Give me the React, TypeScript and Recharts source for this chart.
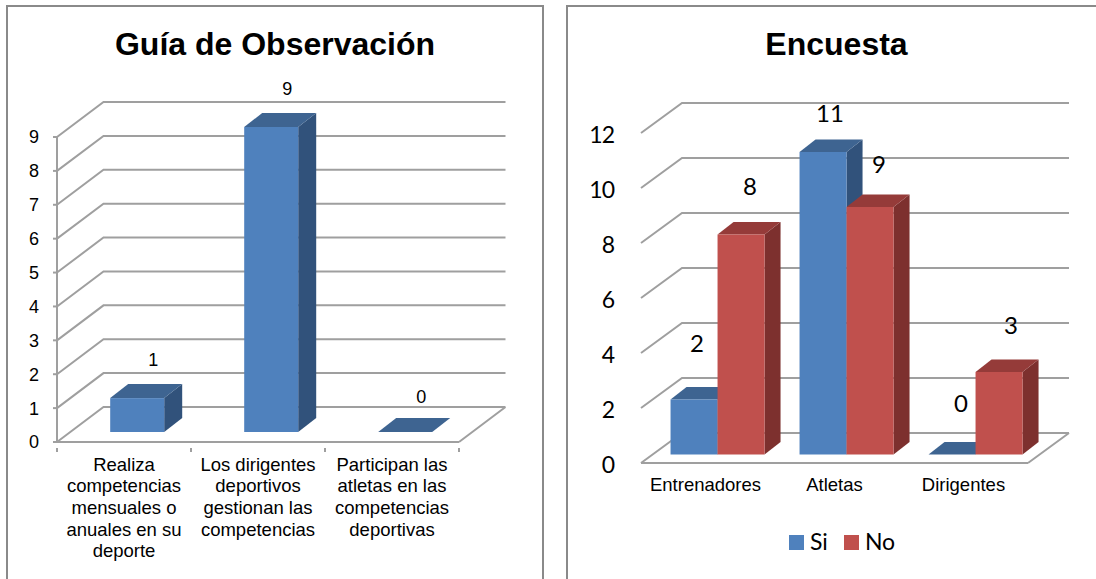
import { Bar, BarChart, CartesianGrid, LabelList, Legend, Text, XAxis, YAxis } from 'recharts';

const guideCategories = [
  'Realiza competencias mensuales o anuales en su deporte',
  'Los dirigentes deportivos gestionan las competencias',
  'Participan las atletas en las competencias deportivas',
];
const guideValues = [1, 9, 0];
const guideTicks = [0, 1, 2, 3, 4, 5, 6, 7, 8, 9];

const surveyCategories = ['Entrenadores', 'Atletas', 'Dirigentes'];
const surveySi = [2, 11, 0];
const surveyNo = [8, 9, 3];
const surveyTicks = [0, 2, 4, 6, 8, 10, 12];

const guideData = guideCategories.map((name, i) => ({ name, value: guideValues[i] }));
const surveyData = surveyCategories.map((name, i) => ({ name, si: surveySi[i], no: surveyNo[i] }));

const ARIAL = '"Liberation Sans", Arial, sans-serif';
const CALIBRI = 'Lato, sans-serif';
const GRID = '#9f9f9f';

const BLUE = { front: '#4f81bd', top: '#3e6491', side: '#31527b' };
const RED = { front: '#c0504d', top: '#953b39', side: '#7d302e' };

// data label placement relative to the top of each bar's front face
const guideLabelNudge = [[16, -38], [16, -38], [16, -35]];
const siLabelNudge = [[3, -57], [7, -40], [9, -52]];
const noLabelNudge = [[9, -49], [9, -44], [12, -48]];

// back wall + side wall of the fake 3D plot, one path per gridline
const wallLine = (dx: number, dy: number) => (props: any) => {
  const { x1, x2, y1, y, height } = props;
  const isFloor = Math.abs(y1 - (y + height)) < 0.5;
  let d = `M${x1},${y1}L${x1 + dx},${y1 + dy}L${x2 + dx},${y1 + dy}`;
  if (isFloor) d += `M${x2},${y1}L${x2 + dx},${y1 + dy}`;
  return <path key={`wall-${y1}`} d={d} fill="none" stroke={GRID} strokeWidth={2} />;
};

// extruded bar: the front face sits a little inside the floor
const box = (colors: typeof BLUE, shiftX: number, shiftY: number, depthX: number, depthY: number) => (props: any) => {
  const { x, y, width, height } = props;
  const l = x + shiftX;
  const r = l + width;
  const t = y + shiftY;
  const b = t + height;
  return (
    <g>
      <path d={`M${r},${t}L${r + depthX},${t - depthY}L${r + depthX},${b - depthY}L${r},${b}Z`} fill={colors.side} />
      <path d={`M${l},${t}L${l + depthX},${t - depthY}L${r + depthX},${t - depthY}L${r},${t}Z`} fill={colors.top} />
      <rect x={l} y={t} width={width} height={height} fill={colors.front} />
    </g>
  );
};

const barLabel = (nudges: number[][], shiftX: number, shiftY: number, family: string, size: number) => (props: any) => {
  const { x, y, width, value, index } = props;
  const [nx, ny] = nudges[index];
  return (
    <text
      x={x + shiftX + width / 2 + nx}
      y={y + shiftY + ny}
      textAnchor="middle"
      dominantBaseline="central"
      fontFamily={family}
      fontSize={size}
      fill="#000"
    >
      {value}
    </text>
  );
};

// wrapped category label plus the tick marks on the band edges
const guideTick = (bandWidth: number) => (props: any) => {
  const { x, y, payload, index } = props;
  const marks = index === guideCategories.length - 1 ? [x - bandWidth / 2, x + bandWidth / 2] : [x - bandWidth / 2];
  return (
    <g>
      {marks.map(m => (
        <line key={m} x1={m} x2={m} y1={y} y2={y + 4} stroke={GRID} strokeWidth={2} />
      ))}
      <Text
        x={x}
        y={y + 9.5}
        width={128}
        textAnchor="middle"
        verticalAnchor="start"
        lineHeight="21.7px"
        fontFamily={ARIAL}
        fontSize={18.5}
        fill="#000"
      >
        {payload.value}
      </Text>
    </g>
  );
};

function Frame({ left, width }: { left: number; width: number }) {
  return (
    <div
      style={{
        position: 'absolute',
        left,
        top: 5,
        width,
        height: 574,
        boxSizing: 'border-box',
        borderTop: '2px solid #8a8a8a',
        borderLeft: '2px solid #8a8a8a',
        borderRight: '2px solid #8a8a8a',
      }}
    />
  );
}

function GuideChart() {
  return (
    <BarChart
      width={560}
      height={579}
      data={guideData}
      barCategoryGap="30%"
      margin={{ top: 137, right: 101, bottom: 0, left: 0 }}
      style={{ position: 'absolute', left: 0, top: 0 }}
    >
      <text x={275} y={55} textAnchor="middle" fontFamily={ARIAL} fontWeight="bold" fontSize={32} fill="#000">
        Guía de Observación
      </text>
      <CartesianGrid vertical={false} horizontal={wallLine(46.5, -35)} />
      <XAxis
        dataKey="name"
        height={137}
        interval={0}
        axisLine={{ stroke: GRID, strokeWidth: 2 }}
        tickLine={false}
        tickMargin={0}
        tick={guideTick(134)}
      />
      <YAxis
        width={57}
        domain={[0, 9]}
        ticks={guideTicks}
        interval={0}
        axisLine={{ stroke: GRID, strokeWidth: 2 }}
        tickLine={{ stroke: GRID, strokeWidth: 2 }}
        tickSize={4}
        tickMargin={14}
        tick={{ fill: '#000', fontFamily: ARIAL, fontSize: 18 }}
      />
      <Bar dataKey="value" fill={BLUE.front} isAnimationActive={false} shape={box(BLUE, 13, -10, 18, 14)}>
        <LabelList dataKey="value" content={barLabel(guideLabelNudge, 13, -10, ARIAL, 18)} />
      </Bar>
    </BarChart>
  );
}

function SurveyChart() {
  return (
    <BarChart
      width={536}
      height={579}
      data={surveyData}
      barCategoryGap="13.6%"
      barGap={0}
      margin={{ top: 133, right: 68, bottom: 0, left: 0 }}
      style={{ position: 'absolute', left: 560, top: 0 }}
    >
      <text x={276.5} y={55} textAnchor="middle" fontFamily={ARIAL} fontWeight="bold" fontSize={32} fill="#000">
        Encuesta
      </text>
      <CartesianGrid vertical={false} horizontal={wallLine(41, -30)} />
      <XAxis
        dataKey="name"
        height={116}
        interval={0}
        axisLine={{ stroke: GRID, strokeWidth: 2 }}
        tickLine={false}
        tickMargin={9}
        tick={{ fill: '#000', fontFamily: ARIAL, fontSize: 18.5 }}
      />
      <YAxis
        width={81}
        domain={[0, 12]}
        ticks={surveyTicks}
        interval={0}
        axisLine={false}
        tickLine={false}
        tickMargin={21}
        dy={2}
        tick={{ fill: '#000', fontFamily: CALIBRI, fontSize: 23, letterSpacing: -1 }}
      />
      <Legend
        verticalAlign="middle"
        layout="horizontal"
        iconType="square"
        iconSize={15}
        itemSorter={null}
        wrapperStyle={{ position: 'absolute', left: 229, top: 523.5, width: 'auto' }}
        formatter={(value: string) => (
          <span style={{ color: '#000', fontFamily: CALIBRI, fontSize: 23, position: 'relative', top: 3, marginLeft: 2, marginRight: 6 }}>
            {value}
          </span>
        )}
      />
      <Bar dataKey="si" name="Si" fill={BLUE.front} isAnimationActive={false} shape={box(BLUE, 12, -8.5, 16, 12.5)}>
        <LabelList dataKey="si" content={barLabel(siLabelNudge, 12, -8.5, CALIBRI, 24)} />
      </Bar>
      <Bar dataKey="no" name="No" fill={RED.front} isAnimationActive={false} shape={box(RED, 12, -8.5, 16, 12.5)}>
        <LabelList dataKey="no" content={barLabel(noLabelNudge, 12, -8.5, CALIBRI, 24)} />
      </Bar>
    </BarChart>
  );
}

export default function App() {
  return (
    <div style={{ position: 'absolute', left: 0, top: 0, width: 1096, height: 579, overflow: 'hidden', background: '#fff' }}>
      <Frame left={6} width={538} />
      <Frame left={566} width={540} />
      <GuideChart />
      <SurveyChart />
    </div>
  );
}
